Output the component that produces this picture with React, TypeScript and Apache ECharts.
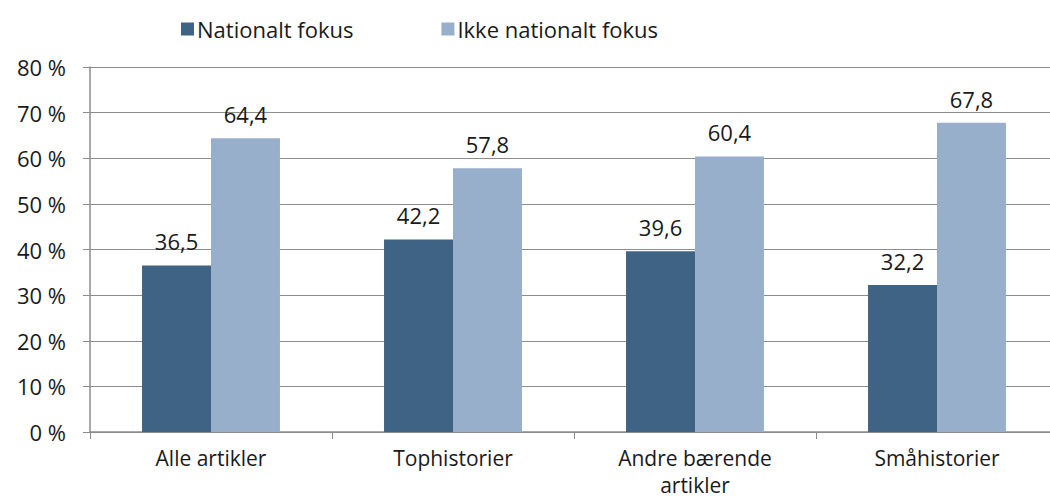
import React, { useEffect, useRef } from "react";
import * as echarts from "echarts";

const categories = ["Alle artikler", "Tophistorier", "Andre bærende\nartikler", "Småhistorier"];
const nationalt = [36.5, 42.2, 39.6, 32.2];
const ikkeNationalt = [64.4, 57.8, 60.4, 67.8];
const seriesNames = ["Nationalt fokus", "Ikke nationalt fokus"];

const FONT = "'Open Sans', 'Noto Sans', sans-serif";
const FS = 22;

export default function App() {
  const ref = useRef<HTMLDivElement>(null);
  useEffect(() => {
    if (!ref.current) return;
    const chart = echarts.init(ref.current, undefined, { renderer: "svg" });
    const label = {
      show: true,
      position: "top" as const,
      distance: 13,
      color: "#1a1a1a",
      fontSize: FS,
      fontFamily: FONT,
      formatter: (p: any) => String(p.value).replace(".", ","),
    };
    chart.setOption({
      animation: false,
      textStyle: { fontFamily: FONT },
      legend: {
        top: 13,
        left: 176,
        itemWidth: 13,
        itemHeight: 13,
        itemGap: 88,
        icon: "rect",
        textStyle: { fontSize: FS, color: "#1a1a1a", fontFamily: FONT, padding: [0, 0, 0, -2] },
        data: seriesNames,
      },
      grid: { left: 90, right: -8, top: 67, bottom: 69, containLabel: false, outerBoundsMode: "none" },
      xAxis: {
        type: "category",
        data: categories,
        axisLine: { lineStyle: { color: "#8c8c8c", width: 1.5 } },
        axisTick: { show: true, length: 7, lineStyle: { color: "#8c8c8c" } },
        axisLabel: { fontSize: 21, color: "#1a1a1a", fontFamily: FONT, margin: 12, lineHeight: 27 },
      },
      yAxis: {
        type: "value",
        min: 0,
        max: 80,
        interval: 10,
        axisLine: { show: true, lineStyle: { color: "#8c8c8c", width: 1.5 } },
        axisTick: { show: true, length: 7, lineStyle: { color: "#8c8c8c" } },
        splitLine: { show: true, lineStyle: { color: "#8c8c8c", width: 1.2 } },
        axisLabel: { fontSize: FS, color: "#1a1a1a", fontFamily: FONT, margin: 24, formatter: "{value} %" },
      },
      series: [
        {
          name: seriesNames[0],
          type: "bar",
          data: nationalt,
          itemStyle: { color: "#3F6384" },
          barGap: "0%",
          barCategoryGap: "43%",
          label,
        },
        {
          name: seriesNames[1],
          type: "bar",
          data: ikkeNationalt,
          itemStyle: { color: "#98AFCB" },
          barGap: "0%",
          barCategoryGap: "43%",
          label,
        },
      ],
    });
    return () => chart.dispose();
  }, []);
  return (
    <div
      ref={ref}
      style={{ position: "absolute", left: 0, top: 0, width: 1050, height: 501, background: "#fff" }}
    />
  );
}
